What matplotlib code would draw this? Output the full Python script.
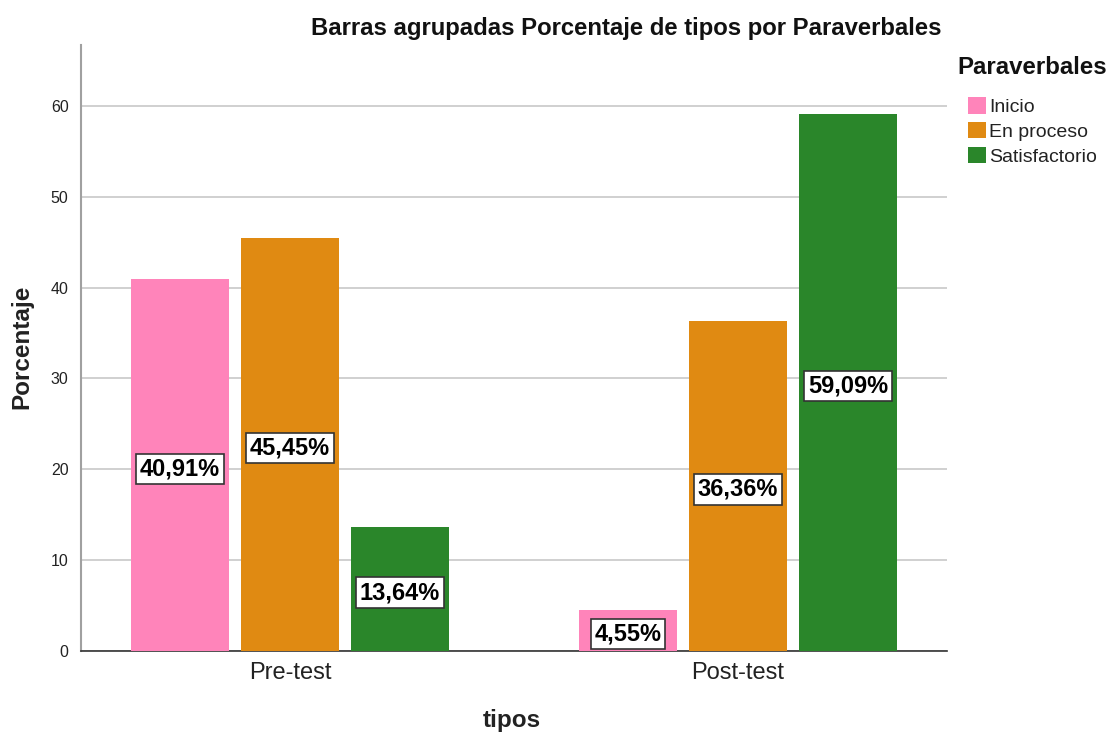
import matplotlib
matplotlib.use("Agg")
import matplotlib.pyplot as plt
import numpy as np

plt.rcParams['font.family'] = ['Liberation Sans', 'DejaVu Sans']

groups = ["Pre-test", "Post-test"]
series = ["Inicio", "En proceso", "Satisfactorio"]
inicio = [40.91, 4.55]
en_proceso = [45.45, 36.36]
satisfactorio = [13.64, 59.09]
colors = ["#FF84BA", "#E08A12", "#2A862A"]
yticks = [0, 10, 20, 30, 40, 50, 60]

fig = plt.figure(figsize=(11.17, 7.35), dpi=100)
ax = fig.add_axes([81/1117, 1-651/735, (947-81)/1117, (651-45)/735])

x = np.arange(len(groups))
step = 0.2455
width = 0.219
for i, (vals, name, c) in enumerate(zip([inicio, en_proceso, satisfactorio], series, colors)):
    pos = x + (i - 1) * step
    ax.bar(pos, vals, width=width, color=c, label=name, zorder=3, edgecolor='none')
    for p, v in zip(pos, vals):
        ax.text(p, v / 2 - 0.4, f"{v:.2f}".replace('.', ',') + "%", ha='center', va='center',
                fontsize=17, fontweight='bold', color='black', zorder=5,
                bbox=dict(boxstyle='square,pad=0.16', facecolor='white', edgecolor='#333333', linewidth=1.2))

ax.set_xlim(-0.4665, 1.4665)
ax.set_ylim(0, 66.7)
ax.set_yticks(yticks)
ax.set_yticklabels([str(t) for t in yticks], fontsize=11.5, color='#222222')
ax.set_xticks(x)
ax.set_xticklabels(groups, fontsize=17, color='#222222')
ax.tick_params(axis='y', length=0, pad=9)
ax.tick_params(axis='x', length=0, pad=8)
ax.grid(axis='y', color='#c8c8c8', linewidth=1.2, zorder=0)
ax.set_axisbelow(True)
for s in ['top', 'right']:
    ax.spines[s].set_visible(False)
ax.spines['left'].set_color('#a0a0a0')
ax.spines['left'].set_linewidth(1.5)
ax.spines['bottom'].set_color('#333333')
ax.spines['bottom'].set_linewidth(1.2)

fig.text(22/1117, 1-347/735, "Porcentaje", rotation=90, ha='center', va='center',
         fontsize=17.5, fontweight='bold', color='#222222')
fig.text(512/1117, 1-720/735, "tipos", ha='center', va='center',
         fontsize=17.5, fontweight='bold', color='#222222')
fig.text(626/1117, 1-28/735, "Barras agrupadas Porcentaje de tipos por Paraverbales", ha='center', va='center',
         fontsize=17.2, fontweight='bold', color='#111111')

fig.text(957/1117, 1-68/735, "Paraverbales", ha='left', va='center',
         fontsize=17.3, fontweight='bold', color='#111111')
leg = fig.legend(loc='upper left', bbox_to_anchor=(960/1117, 1-89/735), frameon=False,
                 fontsize=14, handlelength=0.95, handleheight=0.95,
                 handletextpad=0.15, labelspacing=0.3, borderaxespad=0)
for t in leg.get_texts():
    t.set_color('#222222')

fig.savefig("out.png", dpi=100)
